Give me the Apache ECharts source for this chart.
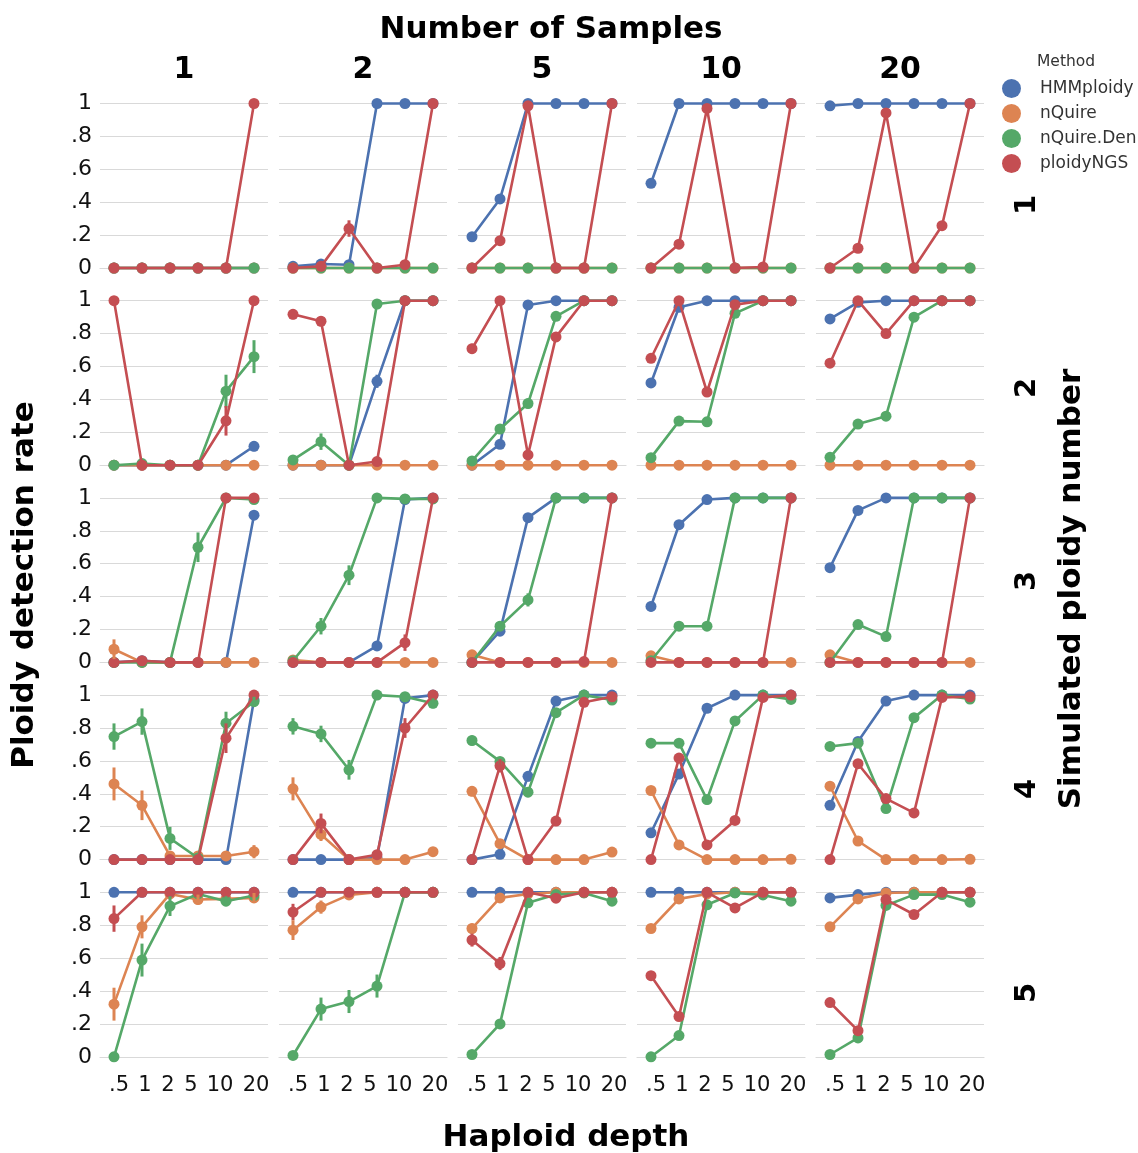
<!DOCTYPE html>
<html>
<head>
<meta charset="utf-8">
<script src="https://cdn.jsdelivr.net/npm/echarts@6/dist/echarts.min.js"></script>
<style>
html,body{margin:0;padding:0;background:#fff;}
#chart{width:1138px;height:1153px;}
</style>
</head>
<body>
<div id="chart"></div>
<script>
// ---- data ----
const depths = ['.5', '1', '2', '5', '10', '20'];          // Haploid depth (x categories)
const sampleCounts = ['1', '2', '5', '10', '20'];          // Number of Samples (columns)
const ploidies = ['1', '2', '3', '4', '5'];                // Simulated ploidy number (rows)
const methods = ['HMMploidy', 'nQuire', 'nQuire.Den', 'ploidyNGS'];

// detection rate [ploidy][samples][depth]
const hmmploidy = [
  [[0,0,0,0,0,0],[0.01,0.024,0.02,1,1,1],[0.19,0.42,1,1,1,1],[0.515,1,1,1,1,1],[0.986,1,1,1,1,1]],
  [[0,0,0,0,0,0.115],[0,0,0,0.51,1,1],[0,0.127,0.974,1,1,1],[0.5,0.96,1,1,1,1],[0.889,0.99,1,1,1,1]],
  [[0,0.01,0,0,0,0.895],[0,0,0,0.1,0.99,1],[0,0.19,0.88,1,1,1],[0.34,0.837,0.99,1,1,1],[0.576,0.924,1,1,1,1]],
  [[0,0,0,0,0,0.97],[0,0,0,0.01,0.98,1],[0,0.032,0.506,0.964,1,1],[0.163,0.52,0.92,1,1,1],[0.33,0.718,0.964,1,1,1]],
  [[1,1,1,1,1,1],[1,1,1,1,1,1],[1,1,1,1,1,1],[1,1,1,1,1,1],[0.966,0.986,1,1,1,1]]
];
const nquire = [
  [[0,0,0,0,0,0],[0,0,0,0,0,0],[0,0,0,0,0,0],[0,0,0,0,0,0],[0,0,0,0,0,0]],
  [[0,0,0,0,0,0],[0,0,0,0,0,0],[0,0,0,0,0,0],[0,0,0,0,0,0],[0,0,0,0,0,0]],
  [[0.08,0,0,0,0,0],[0.015,0,0,0,0,0],[0.046,0,0,0,0,0],[0.04,0,0,0,0,0],[0.046,0,0,0,0,0]],
  [[0.46,0.33,0.022,0.022,0.022,0.048],[0.43,0.153,0,0,0,0.048],[0.415,0.097,0,0,0,0.046],[0.42,0.089,0,0,0,0.002],[0.446,0.113,0,0,0,0.002]],
  [[0.32,0.79,0.99,0.956,0.96,0.966],[0.77,0.91,0.984,1,1,1],[0.78,0.966,0.99,1,1,1],[0.78,0.96,0.99,1,1,1],[0.79,0.96,0.996,1,1,1]]
];
const nquireDen = [
  [[0,0,0,0,0,0],[0,0,0,0,0,0],[0,0,0,0,0,0],[0,0,0,0,0,0],[0,0,0,0,0,0]],
  [[0,0.01,0,0,0.45,0.66],[0.032,0.143,0,0.98,1,1],[0.026,0.22,0.375,0.905,1,1],[0.046,0.268,0.264,0.923,1,1],[0.048,0.25,0.298,0.9,1,1]],
  [[0,0,0,0.7,1,0.99],[0.01,0.22,0.53,1,0.994,0.994],[0,0.22,0.38,1,1,1],[0.01,0.22,0.22,1,1,1],[0,0.23,0.157,1,1,1]],
  [[0.748,0.839,0.129,0.01,0.829,0.96],[0.81,0.764,0.546,1,0.99,0.95],[0.724,0.597,0.41,0.893,1,0.97],[0.708,0.708,0.365,0.843,1,0.974],[0.688,0.708,0.31,0.863,1,0.976]],
  [[0,0.588,0.916,0.99,0.946,0.98],[0.008,0.29,0.336,0.43,1,1],[0.014,0.2,0.936,0.986,0.996,0.946],[0,0.129,0.924,0.996,0.984,0.946],[0.014,0.115,0.92,0.986,0.986,0.94]]
];
const ploidyngs = [
  [[0,0,0,0,0,1],[0,0.01,0.24,0,0.02,1],[0,0.166,0.986,0,0,1],[0,0.145,0.97,0,0.006,1],[0,0.12,0.943,0,0.257,1]],
  [[1,0,0,0,0.27,1],[0.917,0.875,0,0.022,1,1],[0.708,1,0.0625,0.78,1,1],[0.65,1,0.445,0.976,1,1],[0.62,1,0.8,1,1,1]],
  [[0,0.01,0,0,1,1],[0,0,0,0,0.12,1],[0,0,0,0,0.005,1],[0,0,0,0,0,1],[0,0,0,0,0,1]],
  [[0,0,0,0,0.738,1],[0,0.22,0,0.03,0.8,1],[0,0.57,0,0.234,0.956,0.99],[0,0.617,0.089,0.238,0.986,1],[0,0.583,0.371,0.284,0.986,0.99]],
  [[0.84,1,1,1,1,1],[0.88,1,1,1,1,1],[0.71,0.567,1,0.964,1,1],[0.493,0.245,1,0.905,1,1],[0.33,0.159,0.956,0.865,1,1]]
];
// error bars: [ploidyIdx, samplesIdx, methodIdx, depthIdx, halfWidth]
const errorBars = [
  [0,1,3,2,0.05],
  [0,2,0,0,0.02],[0,2,0,1,0.03],[0,2,3,1,0.02],[0,3,0,0,0.02],
  [1,0,2,4,0.1],[1,0,2,5,0.1],[1,0,3,4,0.09],[1,0,0,5,0.03],
  [1,1,3,0,0.03],[1,1,3,1,0.03],[1,1,2,1,0.05],[1,1,0,3,0.04],
  [1,2,3,0,0.03],[1,2,3,3,0.03],[1,2,2,2,0.03],[1,2,0,1,0.02],
  [1,3,3,0,0.02],[1,3,3,2,0.03],[1,3,0,0,0.03],[1,4,3,0,0.02],
  [2,0,1,0,0.06],[2,0,2,3,0.09],
  [2,1,2,1,0.05],[2,1,2,2,0.06],[2,1,3,4,0.05],
  [2,2,0,2,0.02],[2,2,2,2,0.04],[2,2,2,1,0.03],[2,3,0,0,0.03],
  [3,0,2,0,0.08],[3,0,2,1,0.08],[3,0,2,2,0.07],[3,0,2,4,0.07],[3,0,2,5,0.03],[3,0,1,0,0.1],[3,0,1,1,0.09],[3,0,1,5,0.04],[3,0,3,4,0.09],
  [3,1,2,0,0.05],[3,1,2,1,0.05],[3,1,2,2,0.06],[3,1,2,5,0.03],[3,1,1,0,0.07],[3,1,1,1,0.04],[3,1,1,5,0.02],[3,1,3,1,0.06],[3,1,3,4,0.06],
  [3,2,2,0,0.03],[3,2,2,1,0.02],[3,2,2,2,0.03],[3,2,1,0,0.03],[3,2,3,1,0.04],[3,2,3,3,0.03],[3,2,0,2,0.03],
  [3,3,2,2,0.03],[3,3,2,0,0.02],[3,3,3,1,0.03],[3,3,3,3,0.02],[3,3,0,1,0.02],
  [4,0,3,0,0.08],[4,0,1,0,0.1],[4,0,1,1,0.07],[4,0,1,3,0.03],[4,0,1,5,0.03],[4,0,2,1,0.1],[4,0,2,2,0.06],[4,0,2,4,0.03],
  [4,1,3,0,0.05],[4,1,1,0,0.06],[4,1,1,1,0.04],[4,1,2,1,0.07],[4,1,2,2,0.07],[4,1,2,3,0.07],
  [4,2,3,0,0.04],[4,2,3,1,0.04],[4,2,1,0,0.03],[4,2,2,1,0.02]
];

// ---- build ----
const methodData = [hmmploidy, nquire, nquireDen, ploidyngs];
const colors = ['#4C72B0', '#DD8452', '#55A868', '#C44E52'];
const FONT = 'DejaVu Sans';
const grids = [], xAxes = [], yAxes = [], series = [];
const gLeft = 100, gStep = 179, gW = 168, gTop = 103.5, rStep = 197.2, gH = 164.5;

function fmtY(v) {
  if (Math.abs(v) < 1e-9) return '0';
  if (Math.abs(v - 1) < 1e-9) return '1';
  return v.toFixed(1).replace(/^0/, '');
}
// small horizontal nudges of the depth tick labels (as laid out in the original)
const labelShift = [5, 3, -2, -7, -6, 2];
const xRich = {};
labelShift.forEach((d, i) => {
  xRich['d' + i] = { fontSize: 21, fontFamily: FONT, color: '#111',
    padding: d >= 0 ? [0, 0, 0, 2 * d] : [0, -2 * d, 0, 0] };
});

for (let p = 0; p < ploidies.length; p++) {
  for (let s = 0; s < sampleCounts.length; s++) {
    const gi = p * sampleCounts.length + s;
    grids.push({ left: gLeft + s * gStep, top: gTop + p * rStep, width: gW, height: gH, containLabel: false });
    xAxes.push({
      type: 'category', gridIndex: gi, data: depths, boundaryGap: true, offset: 12,
      axisLine: { show: true, lineStyle: { color: '#d9d9d9', width: 1.2 } },
      axisTick: { show: false }, splitLine: { show: false },
      axisLabel: { show: p === ploidies.length - 1, color: '#111', fontSize: 21, fontFamily: FONT, margin: 6, interval: 0,
        formatter: (v, i) => '{d' + i + '|' + v + '}', rich: xRich }
    });
    yAxes.push({
      type: 'value', gridIndex: gi, min: 0, max: 1, interval: 0.2,
      axisLine: { show: false }, axisTick: { show: false },
      splitLine: { show: true, lineStyle: { color: '#d9d9d9', width: 1 } },
      axisLabel: { show: s === 0, color: '#111', fontSize: 22, fontFamily: FONT, margin: 8, formatter: fmtY }
    });
    for (let m = 0; m < methods.length; m++) {
      series.push({
        type: 'line', name: methods[m], xAxisIndex: gi, yAxisIndex: gi,
        data: methodData[m][p][s], clip: false, symbol: 'circle', symbolSize: 11,
        showSymbol: true, animation: false, z: 2 + m,
        itemStyle: { color: colors[m] }, lineStyle: { color: colors[m], width: 2.6 }
      });
    }
    const errs = errorBars.filter(e => e[0] === p && e[1] === s).map(e => {
      const v = methodData[e[2]][p][s][e[3]];
      return [e[3], v - e[4], v + e[4], e[2]];
    });
    if (errs.length) {
      series.push({
        type: 'custom', xAxisIndex: gi, yAxisIndex: gi, data: errs, clip: false, z: 6, animation: false,
        encode: { x: 0, y: [1, 2] },
        renderItem: function (params, api) {
          const a = api.coord([api.value(0), api.value(1)]);
          const b = api.coord([api.value(0), api.value(2)]);
          return { type: 'line', shape: { x1: a[0], y1: a[1], x2: b[0], y2: b[1] },
                   style: { stroke: colors[api.value(3)], lineWidth: 3 } };
        }
      });
    }
  }
}

const graphics = [];
const TITLE_FONT = 'bold 31px "DejaVu Sans"';
graphics.push({ type: 'text', x: 551, y: 30, style: { text: 'Number of Samples', font: TITLE_FONT, fill: '#000', textAlign: 'center', textVerticalAlign: 'middle' } });
const rowLabelY = [205, 388, 581, 789, 993];
sampleCounts.forEach((t, s) => {
  graphics.push({ type: 'text', x: gLeft + s * gStep + gW / 2, y: 70, style: { text: t, font: 'bold 30px "DejaVu Sans"', fill: '#000', textAlign: 'center', textVerticalAlign: 'middle' } });
});
ploidies.forEach((t, p) => {
  graphics.push({ type: 'text', x: 1027, y: rowLabelY[p], rotation: Math.PI / 2, style: { text: t, font: 'bold 29px "DejaVu Sans"', fill: '#000', textAlign: 'center', textVerticalAlign: 'middle' } });
});
graphics.push({ type: 'text', x: 1072, y: 589, rotation: Math.PI / 2, style: { text: 'Simulated ploidy number', font: TITLE_FONT, fill: '#000', textAlign: 'center', textVerticalAlign: 'middle' } });
graphics.push({ type: 'text', x: 25, y: 585, rotation: Math.PI / 2, style: { text: 'Ploidy detection rate', font: TITLE_FONT, fill: '#000', textAlign: 'center', textVerticalAlign: 'middle' } });
graphics.push({ type: 'text', x: 566, y: 1138, style: { text: 'Haploid depth', font: TITLE_FONT, fill: '#000', textAlign: 'center', textVerticalAlign: 'middle' } });
graphics.push({ type: 'text', x: 1037, y: 62, style: { text: 'Method', font: '15.5px "DejaVu Sans"', fill: '#333', textAlign: 'left', textVerticalAlign: 'middle' } });

const chart = echarts.init(document.getElementById('chart'), null, { renderer: 'canvas' });
chart.setOption({
  animation: false,
  backgroundColor: '#fff',
  grid: grids, xAxis: xAxes, yAxis: yAxes, series: series,
  legend: {
    data: methods, orient: 'vertical', left: 997, top: 74, itemGap: 6,
    icon: 'circle', itemWidth: 19, itemHeight: 19, selectedMode: false,
    textStyle: { fontSize: 17, color: '#333', fontFamily: FONT, padding: [0, 0, 0, 14] }
  },
  graphic: graphics
});
</script>
</body>
</html>
